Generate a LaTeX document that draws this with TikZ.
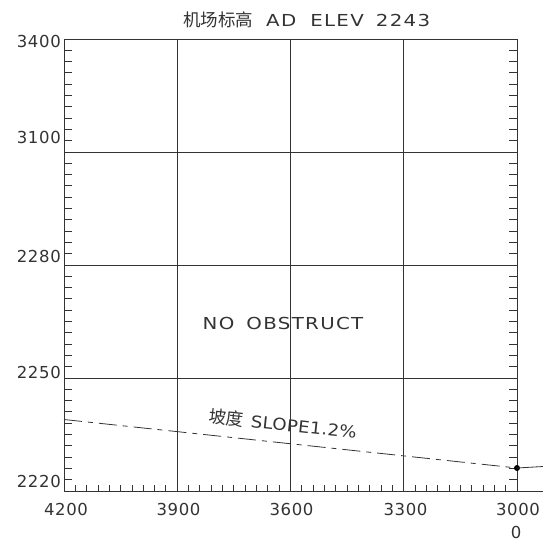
\documentclass[tikz,border=0pt]{standalone}
\usepackage{fontspec}
\setmainfont{DejaVu Sans}
\newfontfamily\cadfont[FakeStretch=1.2, LetterSpace=8]{DejaVu Sans}
\newfontfamily\slopefont[FakeStretch=1.1, LetterSpace=2]{DejaVu Sans}
\newfontfamily\numfont[LetterSpace=4]{DejaVu Sans}
\newfontfamily\cjkfont{Noto Sans CJK SC}
\newcommand{\cjktext}[1]{{\fontsize{17.5}{18}\selectfont\cjkfont #1}}
\begin{document}
\begin{tikzpicture}[x=1pt,y=-1pt,
  frame/.style={draw=black!80, line width=0.9pt},
  tickline/.style={draw=black!80, line width=0.9pt},
  numlbl/.style={font=\fontsize{16.5}{17}\selectfont\numfont, text=black!80, inner sep=0pt},
  wordlbl/.style={font=\fontsize{16.5}{17}\selectfont\cadfont, text=black!80, inner sep=0pt},
  slopelbl/.style={font=\fontsize{16.5}{17}\selectfont\slopefont, text=black!80, inner sep=0pt},
  slopeline/.style={draw=black!80, line width=0.8pt, dash pattern=on 18pt off 6pt on 5pt off 6pt},
]
\useasboundingbox (0,0) rectangle (543,541);
% grid
\foreach \x in {64,177.25,290.5,403.75,517} \draw[frame] (\x,39) -- (\x,491);
\foreach \y in {39,152,265,378,491} \draw[frame] (64,\y) -- (517,\y);
\draw[frame] (517,491) -- (543,491);
% ticks
\foreach \k in {0,...,40} {
  \draw[tickline] (64,{39+\k*11.3}) -- ++(8,0);
  \draw[tickline] (517,{39+\k*11.3}) -- ++(-8,0);
  \draw[tickline] ({64+\k*11.325},491) -- ++(0,-6);
}
% left labels
\node[numlbl, anchor=east] (y3400) at (61,41) {3400};
\node[numlbl, anchor=east] (y3100) at (61,137.5) {3100};
\node[numlbl, anchor=east] (y2280) at (61,256) {2280};
\node[numlbl, anchor=east] (y2250) at (61,372.5) {2250};
\node[numlbl, anchor=east] (y2220) at (61,481) {2220};
% bottom labels
\node[numlbl] (x4200) at (66,509) {4200};
\node[numlbl] (x3900) at (178.5,509) {3900};
\node[numlbl] (x3600) at (291.5,509) {3600};
\node[numlbl] (x3300) at (405.5,509) {3300};
\node[numlbl] (x3000) at (518,509) {3000};
\node[numlbl] (x0) at (516,532) {0};
% title
\node[wordlbl, anchor=west] (title) at (183,20) {\cjktext{机场标高}\hspace{13pt}AD\hspace{14pt}ELEV\hspace{12pt}2243};
\node[wordlbl] (noobs) at (283,323) {NO\hspace{12pt}OBSTRUCT};
% slope
\coordinate (s0) at (64,419.5);
\node[circle, fill=black, inner sep=0pt, minimum size=6pt] (pt) at (517,468) {};
\coordinate (s2) at (543,466.5);
\draw[slopeline] (s0) -- (pt.center);
\draw[draw=black!80, line width=0.8pt] (pt.center) -- (s2);
\node[slopelbl, rotate=-6.1] (slope) at (283,424) {\cjktext{坡度}\hspace{7pt}SLOPE1.2\%};
\end{tikzpicture}
\end{document}
